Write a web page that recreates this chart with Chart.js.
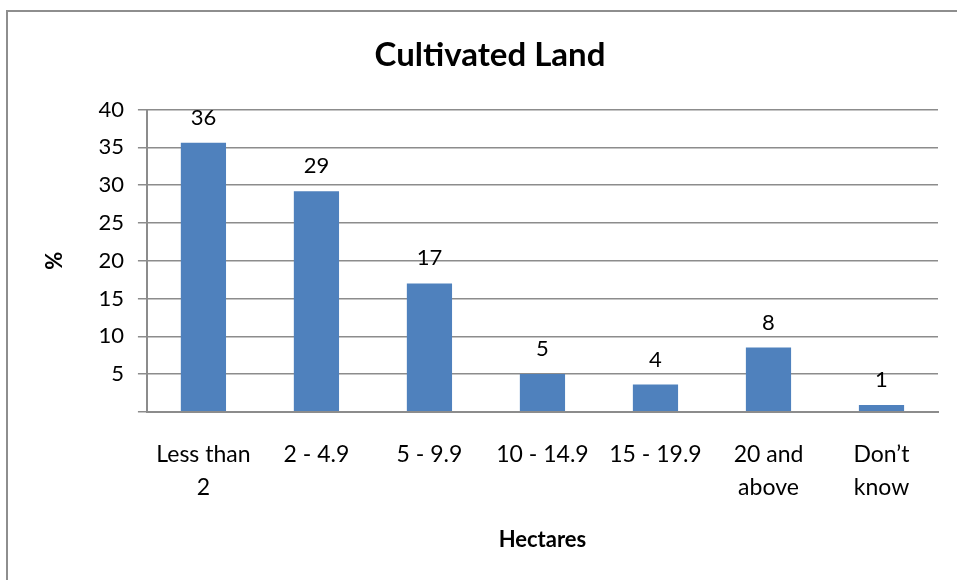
<!DOCTYPE html>
<html>
<head>
<meta charset="utf-8">
<script src="https://cdn.jsdelivr.net/npm/chart.js@4"></script>
<style>
  html, body { margin: 0; padding: 0; background: #fff; overflow: hidden; }
  #frame { position: absolute; left: 6px; top: 10px; width: 1000px; height: 700px; border: 2px solid #8e8e8e; box-sizing: border-box; }
  #wrap { position: absolute; left: 0; top: 0; width: 957px; height: 580px; }
</style>
</head>
<body>
<div id="frame"></div>
<div id="wrap"><canvas id="c" width="957" height="580"></canvas></div>
<script>
const categories = [['Less than', '2'], '2 - 4.9', '5 - 9.9', '10 - 14.9', '15 - 19.9', ['20 and', 'above'], ['Don\u2019t', 'know']];
const shares = [35.6, 29.2, 17.0, 5.0, 3.6, 8.5, 0.9];
const shareLabels = ['36', '29', '17', '5', '4', '8', '1'];
const yTicks = [0, 5, 10, 15, 20, 25, 30, 35, 40];

const fontFamily = 'Lato, "Open Sans", sans-serif';
const gridGray = '#8c8c8c';

// values written above each bar
const barLabels = {
    id: 'barLabels',
    afterDatasetsDraw(chart) {
        const ctx = chart.ctx;
        const meta = chart.getDatasetMeta(0);
        ctx.save();
        ctx.font = '22px ' + fontFamily;
        ctx.fillStyle = '#000';
        ctx.textAlign = 'center';
        ctx.textBaseline = 'middle';
        meta.data.forEach((bar, i) => {
            ctx.fillText(shareLabels[i], bar.x, bar.y - 25);
        });
        ctx.restore();
    }
};

new Chart(document.getElementById('c').getContext('2d'), {
    type: 'bar',
    data: {
        labels: categories,
        datasets: [{
            data: shares,
            backgroundColor: '#4f81bd',
            barPercentage: 0.4,
            categoryPercentage: 1.0
        }]
    },
    options: {
        responsive: false,
        animation: false,
        layout: { padding: { left: 42, right: 19, top: 0, bottom: 27 } },
        plugins: {
            legend: { display: false },
            tooltip: { enabled: false },
            title: {
                display: true,
                text: 'Cultivated Land',
                color: '#000',
                font: { family: fontFamily, size: 33, weight: 'bold' },
                padding: { top: 36, bottom: 34 }
            }
        },
        scales: {
            x: {
                grid: { display: false },
                border: { display: true, color: gridGray, width: 2 },
                ticks: { color: '#000', padding: 18, maxRotation: 0, font: { family: fontFamily, size: 23, lineHeight: 1.43 } },
                title: {
                    display: true,
                    text: 'Hectares',
                    color: '#000',
                    font: { family: fontFamily, size: 22, weight: 'bold' },
                    padding: { top: 5, bottom: 0 }
                }
            },
            y: {
                min: 0,
                max: 40,
                afterBuildTicks(axis) { axis.ticks = yTicks.map(v => ({ value: v })); },
                grid: { color: gridGray, lineWidth: 1.5, tickLength: 9 },
                border: { display: true, color: gridGray, width: 2 },
                ticks: {
                    color: '#000',
                    padding: 14,
                    font: { family: fontFamily, size: 22 },
                    callback: v => (v === 0 ? '' : v)
                },
                title: {
                    display: true,
                    text: '%',
                    color: '#000',
                    font: { family: fontFamily, size: 22, weight: 'bold' },
                    padding: { top: 0, bottom: 16 }
                }
            }
        }
    },
    plugins: [barLabels]
});
</script>
</body>
</html>
